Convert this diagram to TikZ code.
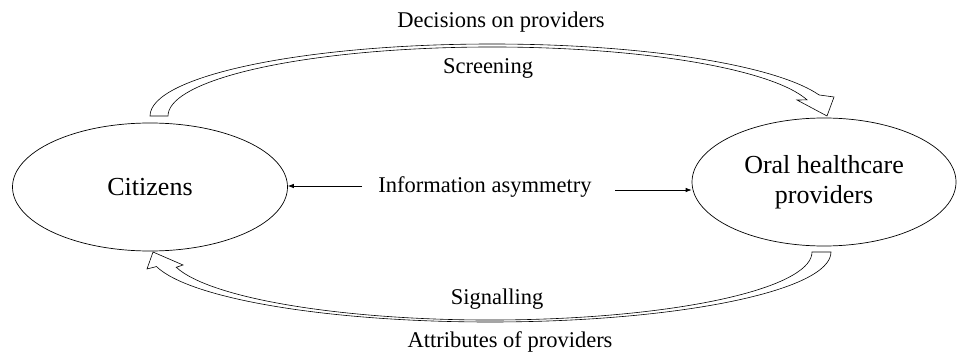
\documentclass[tikz,border=0pt]{standalone}
\usepackage{fontspec}
\setmainfont{Liberation Serif}
\usetikzlibrary{shapes.geometric,arrows.meta,calc}

\tikzset{
  actor/.style={ellipse, draw, line width=0.7pt, inner sep=0pt,
                font=\fontsize{26}{30}\selectfont, align=center},
  lbl/.style={font=\fontsize{22.5}{27}\selectfont, inner sep=0pt, anchor=base},
  blockarrow/.style={draw, line width=0.6pt, fill=white, line join=miter},
  infoarrow/.style={line width=0.7pt, -{Latex[length=6pt,width=4.5pt]}}
}

\begin{document}
\begin{tikzpicture}[x=1pt,y=1pt]
  \useasboundingbox (0,0) rectangle (957,359);

  % the two parties
  \node[actor, minimum width=275pt, minimum height=128pt] (cit) at (150,172) {Citizens};
  \node[actor, minimum width=264pt, minimum height=128pt] (oral) at (824,177)
       {Oral healthcare\\providers};

  % upper curved block arrow: citizens -> providers
  \draw[blockarrow]
    (150,243) arc[start angle=180, end angle=17, x radius=342, y radius=72]
    -- (834,262) -- (827,243) -- (797,259)
    -- ($(492,243)+(13.5:324 and 69)$)
    arc[start angle=13.5, end angle=180, x radius=324, y radius=69]
    -- cycle;

  % lower curved block arrow: providers -> citizens
  \draw[blockarrow]
    (831,107) arc[start angle=0, end angle=-168, x radius=341, y radius=70]
    -- (147,90) -- (153,107) -- (183,94)
    -- ($(490,107)+(-167:322 and 68)$)
    arc[start angle=-167, end angle=0, x radius=322, y radius=68]
    -- cycle;

  % labels
  \node[lbl] (dec) at (501,331) {Decisions on providers};
  \node[lbl] (scr) at (488,285) {Screening};
  \node[lbl] (info) at (485,166) {Information asymmetry};
  \node[lbl] (sig) at (497,55) {Signalling};
  \node[lbl] (att) at (510,12) {Attributes of providers};

  % information asymmetry arrows
  \coordinate (la) at (362,173);
  \coordinate (ra) at (615,169);
  \draw[infoarrow] (la) -- (la -| cit.east);
  \draw[infoarrow] (ra) -- (ra -| oral.west);
\end{tikzpicture}
\end{document}
